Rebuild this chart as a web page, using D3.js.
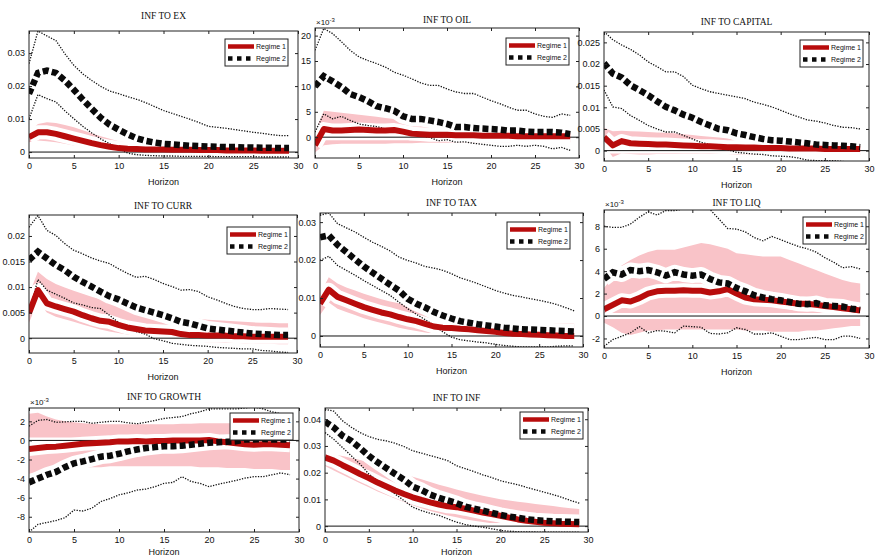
<!DOCTYPE html>
<html>
<head>
<meta charset="utf-8">
<script src="https://cdn.jsdelivr.net/npm/d3@7/dist/d3.min.js"></script>
<style>
  body { margin: 0; background: #fff; }
</style>
</head>
<body>
<div id="chart"></div>
<script>
// horizon (x) and axis ticks
const horizon = [0,1,2,3,4,5,6,7,8,9,10,11,12,13,14,15,16,17,18,19,20,21,22,23,24,25,26,27,28,29];
const xTicks = [0,5,10,15,20,25,30];

// INF TO EX
const exR1   = [0.0045,0.0060,0.0060,0.0055,0.0048,0.0041,0.0034,0.0027,0.0021,0.0016,0.0012,0.0010,0.0009,0.0008,0.0008,0.0008,0.0007,0.0007,0.0007,0.0006,0.0006,0.0006,0.0005,0.0005,0.0005,0.0005,0.0004,0.0004,0.0004,0.0004];
const exR1Hi = [0.0060,0.0085,0.0090,0.0088,0.0082,0.0075,0.0066,0.0057,0.0048,0.0040,0.0033,0.0029,0.0026,0.0024,0.0022,0.0021,0.0020,0.0019,0.0019,0.0018,0.0018,0.0017,0.0017,0.0016,0.0016,0.0016,0.0015,0.0015,0.0015,0.0015];
const exR1Lo = [0.0030,0.0035,0.0033,0.0030,0.0025,0.0020,0.0015,0.0010,0.0006,0.0003,0.0000,-0.0001,-0.0002,-0.0002,-0.0002,-0.0002,-0.0002,-0.0003,-0.0003,-0.0003,-0.0003,-0.0003,-0.0003,-0.0003,-0.0003,-0.0003,-0.0003,-0.0003,-0.0003,-0.0003];
const exR2   = [0.0177,0.0240,0.0247,0.0240,0.0217,0.0189,0.0159,0.0131,0.0104,0.0083,0.0068,0.0054,0.0042,0.0034,0.0029,0.0025,0.0023,0.0021,0.0019,0.0018,0.0017,0.0016,0.0015,0.0015,0.0014,0.0014,0.0013,0.0013,0.0012,0.0012];
const exR2Hi = [0.0268,0.0367,0.0352,0.0338,0.0298,0.0263,0.0237,0.0217,0.0199,0.0185,0.0177,0.0168,0.0160,0.0150,0.0138,0.0126,0.0117,0.0108,0.0099,0.0089,0.0078,0.0075,0.0072,0.0068,0.0064,0.0060,0.0057,0.0053,0.0050,0.0050];
const exR2Lo = [0.0101,0.0174,0.0162,0.0152,0.0125,0.0101,0.0078,0.0058,0.0040,0.0025,0.0010,-0.0003,-0.0008,-0.0010,-0.0011,-0.0012,-0.0012,-0.0013,-0.0013,-0.0013,-0.0013,-0.0014,-0.0014,-0.0014,-0.0014,-0.0014,-0.0015,-0.0015,-0.0015,-0.0015];
const exYLim = [-0.0018, 0.0367];
const exYTicks = [0, 0.01, 0.02, 0.03];

// INF TO OIL (x10^-3)
const oilR1   = [-1.6,1.6,1.3,1.3,1.4,1.5,1.4,1.3,1.3,1.4,1.1,0.7,0.6,0.5,0.5,0.5,0.4,0.4,0.4,0.3,0.3,0.3,0.3,0.2,0.2,0.2,0.2,0.2,0.2,0.2];
const oilR1Hi = [1.0,5.2,5.0,4.8,4.6,4.4,4.2,4.0,3.8,3.6,3.4,3.0,2.8,2.6,2.5,2.4,2.3,2.2,2.1,2.0,2.0,1.9,1.9,1.8,1.8,1.8,1.8,1.8,1.8,1.8];
const oilR1Lo = [-3.0,-1.6,-1.4,-1.3,-1.3,-1.3,-1.3,-1.3,-1.3,-1.2,-1.2,-1.2,-1.1,-1.1,-1.1,-1.1,-1.0,-1.0,-1.0,-1.0,-1.0,-1.0,-1.0,-1.0,-1.0,-1.0,-1.0,-1.0,-1.0,-1.0];
const oilR2   = [10.0,12.0,11.0,9.9,8.5,7.9,7.1,6.1,5.7,5.2,4.1,3.6,3.6,3.3,3.0,2.6,2.0,2.0,1.8,1.7,1.6,1.5,1.3,1.3,1.1,1.0,1.0,1.0,0.9,0.6];
const oilR2Hi = [17.1,21.4,20.4,18.8,17.1,15.8,15.1,14.5,13.8,12.8,12.2,11.5,10.7,10.2,10.2,9.5,8.9,8.6,8.6,7.9,7.2,6.6,5.9,5.3,5.3,4.6,4.1,3.9,4.6,4.3];
const oilR2Lo = [1.0,4.6,3.6,4.1,3.3,2.6,2.3,2.1,1.6,1.3,1.0,0.7,0.3,0.0,-0.7,-0.5,-1.0,-0.9,-1.2,-1.4,-1.6,-1.8,-1.8,-1.6,-1.8,-1.6,-1.8,-2.3,-2.0,-2.6];
const oilYLim = [-4.1, 21.5];
const oilYTicks = [0, 5, 10, 15, 20];

// INF TO CAPITAL
const capR1   = [0.0031,0.0012,0.0022,0.0017,0.0016,0.0015,0.0014,0.0014,0.0013,0.0012,0.0011,0.0010,0.0010,0.0009,0.0008,0.0008,0.0007,0.0007,0.0006,0.0006,0.0006,0.0005,0.0005,0.0005,0.0005,0.0004,0.0004,0.0004,0.0004,0.0004];
const capR1Hi = [0.0052,0.0045,0.0046,0.0045,0.0044,0.0043,0.0042,0.0041,0.0040,0.0038,0.0036,0.0034,0.0032,0.0030,0.0028,0.0026,0.0025,0.0024,0.0023,0.0022,0.0021,0.0020,0.0020,0.0019,0.0019,0.0018,0.0018,0.0018,0.0017,0.0017];
const capR1Lo = [0.0012,-0.0015,-0.0006,-0.0008,-0.0009,-0.0009,-0.0008,-0.0008,-0.0008,-0.0007,-0.0007,-0.0007,-0.0008,-0.0008,-0.0008,-0.0009,-0.0009,-0.0009,-0.0009,-0.0009,-0.0009,-0.0010,-0.0010,-0.0010,-0.0010,-0.0010,-0.0010,-0.0010,-0.0010,-0.0010];
const capR2   = [0.0202,0.0178,0.0169,0.0151,0.0140,0.0128,0.0114,0.0101,0.0093,0.0083,0.0076,0.0066,0.0058,0.0050,0.0047,0.0040,0.0036,0.0031,0.0027,0.0024,0.0023,0.0021,0.0019,0.0017,0.0014,0.0013,0.0012,0.0011,0.0010,0.0008];
const capR2Hi = [0.0275,0.0256,0.0244,0.0234,0.0221,0.0205,0.0194,0.0182,0.0182,0.0171,0.0151,0.0143,0.0136,0.0132,0.0128,0.0124,0.0120,0.0112,0.0107,0.0101,0.0093,0.0085,0.0078,0.0071,0.0068,0.0064,0.0058,0.0054,0.0053,0.0050];
const capR2Lo = [0.0140,0.0101,0.0097,0.0081,0.0070,0.0058,0.0050,0.0043,0.0043,0.0035,0.0027,0.0019,0.0014,0.0008,0.0002,-0.0004,-0.0006,-0.0008,-0.0009,-0.0012,-0.0013,-0.0014,-0.0017,-0.0022,-0.0023,-0.0023,-0.0023,-0.0025,-0.0027,-0.0027];
const capYLim = [-0.0024, 0.0274];
const capYTicks = [0, 0.005, 0.01, 0.015, 0.02, 0.025];

// INF TO CURR
const curR1   = [0.0049,0.0094,0.0068,0.0062,0.0057,0.0052,0.0045,0.0039,0.0034,0.0032,0.0026,0.0021,0.0018,0.0015,0.0014,0.0013,0.0012,0.0008,0.0006,0.0006,0.0005,0.0005,0.0005,0.0004,0.0004,0.0003,0.0003,0.0003,0.0003,0.0003];
const curR1Hi = [0.0085,0.0130,0.0116,0.0106,0.0099,0.0093,0.0087,0.0081,0.0076,0.0071,0.0066,0.0062,0.0058,0.0054,0.0050,0.0046,0.0044,0.0042,0.0040,0.0038,0.0036,0.0035,0.0034,0.0033,0.0032,0.0031,0.0030,0.0030,0.0029,0.0029];
const curR1Lo = [0.0030,0.0072,0.0050,0.0042,0.0037,0.0032,0.0027,0.0022,0.0017,0.0013,0.0010,0.0007,0.0004,0.0002,0.0000,-0.0002,-0.0004,-0.0005,-0.0006,-0.0007,-0.0008,-0.0008,-0.0009,-0.0009,-0.0010,-0.0010,-0.0011,-0.0011,-0.0012,-0.0012];
const curR2   = [0.0153,0.0169,0.0156,0.0143,0.0133,0.0120,0.0110,0.0101,0.0091,0.0082,0.0076,0.0068,0.0060,0.0055,0.0050,0.0045,0.0039,0.0032,0.0029,0.0024,0.0019,0.0017,0.0015,0.0013,0.0011,0.0009,0.0008,0.0007,0.0006,0.0006];
const curR2Hi = [0.0217,0.0240,0.0211,0.0201,0.0185,0.0172,0.0165,0.0157,0.0151,0.0146,0.0136,0.0127,0.0119,0.0121,0.0115,0.0107,0.0101,0.0094,0.0095,0.0091,0.0081,0.0075,0.0068,0.0062,0.0058,0.0056,0.0056,0.0058,0.0057,0.0056];
const curR2Lo = [0.0049,0.0115,0.0094,0.0086,0.0078,0.0069,0.0065,0.0060,0.0058,0.0045,0.0031,0.0021,0.0013,0.0008,-0.0001,-0.0005,-0.0010,-0.0012,-0.0014,-0.0015,-0.0016,-0.0018,-0.0019,-0.0020,-0.0021,-0.0021,-0.0024,-0.0025,-0.0027,-0.0028];
const curYLim = [-0.0029, 0.0241];
const curYTicks = [0, 0.005, 0.01, 0.015, 0.02];

// INF TO TAX
const taxR1   = [0.0085,0.0122,0.0103,0.0094,0.0085,0.0076,0.0069,0.0062,0.0057,0.0050,0.0044,0.0039,0.0032,0.0025,0.0022,0.0021,0.0019,0.0018,0.0015,0.0013,0.0011,0.0008,0.0006,0.0005,0.0004,0.0003,0.0002,0.0001,0.0000,0.0000];
const taxR1Hi = [0.0110,0.0155,0.0138,0.0128,0.0120,0.0111,0.0104,0.0097,0.0091,0.0086,0.0081,0.0074,0.0067,0.0060,0.0053,0.0047,0.0044,0.0042,0.0040,0.0038,0.0037,0.0036,0.0036,0.0035,0.0035,0.0034,0.0034,0.0033,0.0033,0.0032];
const taxR1Lo = [0.0055,0.0088,0.0072,0.0063,0.0055,0.0047,0.0040,0.0034,0.0028,0.0022,0.0017,0.0013,0.0009,0.0006,0.0003,0.0001,-0.0001,-0.0002,-0.0003,-0.0004,-0.0005,-0.0006,-0.0007,-0.0007,-0.0008,-0.0008,-0.0009,-0.0009,-0.0010,-0.0010];
const taxR2   = [0.0260,0.0265,0.0240,0.0221,0.0202,0.0183,0.0167,0.0151,0.0135,0.0120,0.0098,0.0085,0.0075,0.0063,0.0054,0.0046,0.0039,0.0035,0.0031,0.0028,0.0025,0.0022,0.0020,0.0018,0.0017,0.0016,0.0015,0.0014,0.0013,0.0012];
const taxR2Hi = [0.0318,0.0324,0.0296,0.0285,0.0274,0.0260,0.0247,0.0236,0.0224,0.0208,0.0199,0.0192,0.0183,0.0179,0.0173,0.0164,0.0153,0.0146,0.0138,0.0129,0.0120,0.0113,0.0107,0.0103,0.0098,0.0094,0.0089,0.0083,0.0075,0.0066];
const taxR2Lo = [0.0199,0.0210,0.0186,0.0173,0.0160,0.0146,0.0133,0.0120,0.0107,0.0089,0.0072,0.0057,0.0043,0.0028,0.0011,-0.0003,-0.0010,-0.0013,-0.0016,-0.0018,-0.0022,-0.0025,-0.0027,-0.0029,-0.0029,-0.0029,-0.0029,-0.0027,-0.0026,-0.0026];
const taxYLim = [-0.0029, 0.0324];
const taxYTicks = [0, 0.01, 0.02, 0.03];

// INF TO LIQ (x10^-3)
const liqR1   = [0.6,1.0,1.4,1.3,1.6,2.0,2.2,2.25,2.25,2.3,2.25,2.25,2.1,2.2,2.4,2.0,1.65,1.5,1.45,1.4,1.3,1.2,1.1,1.1,1.0,0.9,0.8,0.7,0.6,0.5];
const liqR1Hi = [2.5,3.5,4.5,5.0,5.4,5.7,5.9,5.9,5.9,6.1,6.3,6.5,6.4,6.2,6.0,5.6,5.5,5.4,5.3,5.3,5.3,5.0,4.7,4.4,4.1,3.8,3.5,3.2,3.0,2.9];
const liqR1Lo = [-0.6,-1.0,-1.5,-1.7,-1.5,-1.3,-1.3,-1.2,-1.2,-1.2,-1.2,-1.2,-1.2,-1.2,-1.2,-1.2,-1.3,-1.3,-1.3,-1.4,-1.4,-1.4,-1.4,-1.3,-1.3,-1.2,-1.1,-1.0,-0.9,-0.9];
const liqR2   = [3.3,3.9,3.7,4.1,4.0,4.1,3.9,3.6,3.9,3.7,3.6,3.7,3.3,3.0,2.9,2.5,2.2,1.85,1.65,1.5,1.4,1.25,1.1,1.05,1.15,0.95,0.9,0.85,0.65,0.55];
const liqR2Hi = [8.0,7.9,7.9,8.2,8.8,9.3,9.0,9.4,9.4,9.55,9.55,9.55,9.5,8.65,7.8,7.75,7.5,7.0,6.7,7.1,6.8,6.5,6.2,6.0,5.7,5.2,4.8,4.3,4.4,4.2];
const liqR2Lo = [-2.7,-2.1,-1.8,-1.5,-0.95,-1.5,-1.3,-1.35,-1.5,-0.9,-0.95,-1.0,-1.55,-1.6,-1.5,-1.05,-1.2,-1.6,-1.6,-1.5,-1.8,-2.1,-2.1,-2.0,-1.9,-2.1,-2.1,-1.8,-1.8,-2.0];
const liqYLim = [-2.85, 9.45];
const liqYTicks = [-2, 0, 2, 4, 6, 8];

// INF TO GROWTH (x10^-3)
const groR1   = [-0.9,-0.8,-0.7,-0.65,-0.55,-0.45,-0.35,-0.3,-0.25,-0.2,-0.1,-0.1,-0.05,-0.1,-0.05,-0.05,0,0,0,0,0.05,-0.1,-0.2,-0.3,-0.4,-0.45,-0.4,-0.4,-0.45,-0.5];
const groR1Hi = [2.8,2.9,2.5,2.2,2.0,1.9,1.8,1.75,1.7,1.7,1.7,1.7,1.7,1.7,1.7,1.7,1.7,1.75,1.75,1.8,1.8,1.8,1.8,1.8,1.75,1.75,1.7,1.7,1.7,1.7];
const groR1Lo = [-3.5,-3.4,-3.3,-3.2,-3.1,-3.0,-2.9,-2.8,-2.8,-2.7,-2.7,-2.7,-2.7,-2.7,-2.7,-2.7,-2.7,-2.7,-2.7,-2.8,-2.8,-2.8,-2.9,-2.9,-2.9,-3.0,-3.0,-3.0,-3.1,-3.1];
const groR2   = [-4.4,-4.0,-3.6,-3.3,-2.8,-2.4,-2.2,-1.95,-1.7,-1.6,-1.4,-1.15,-0.95,-0.8,-0.7,-0.6,-0.6,-0.55,-0.45,-0.35,-0.25,-0.2,-0.15,-0.1,0.1,0.1,0.15,0.1,0.1,0.1];
const groR2Hi = [1.5,2.1,2.2,1.9,1.95,2.0,2.0,1.8,1.9,2.0,2.0,1.85,1.75,1.9,2.1,2.3,2.4,2.5,2.8,3.0,3.3,3.3,3.3,3.3,3.4,3.5,3.3,3.0,2.8,2.5];
const groR2Lo = [-9.6,-8.8,-8.6,-8.4,-8.1,-7.3,-7.4,-7.1,-6.4,-6.1,-5.7,-5.5,-5.2,-5.1,-4.85,-4.5,-4.4,-3.8,-4.3,-4.5,-4.85,-4.6,-4.4,-4.2,-3.95,-3.8,-3.8,-3.6,-3.4,-3.6];
const groYLim = [-9.6, 3.4];
const groYTicks = [-8, -6, -4, -2, 0, 2];

// INF TO INF
const infR1   = [0.0257,0.0245,0.0228,0.0212,0.0195,0.0180,0.0163,0.0148,0.0133,0.0120,0.0108,0.0098,0.0089,0.0081,0.0074,0.0071,0.0065,0.0058,0.0051,0.0045,0.0039,0.0032,0.0025,0.0020,0.0016,0.0013,0.0011,0.0009,0.0008,0.0007];
const infR1Hi = [0.0270,0.0268,0.0262,0.0255,0.0247,0.0238,0.0228,0.0218,0.0207,0.0196,0.0185,0.0175,0.0165,0.0155,0.0146,0.0137,0.0129,0.0121,0.0114,0.0107,0.0101,0.0096,0.0091,0.0087,0.0083,0.0079,0.0075,0.0071,0.0067,0.0064];
const infR1Lo = [0.0225,0.0208,0.0192,0.0176,0.0160,0.0145,0.0130,0.0116,0.0103,0.0090,0.0078,0.0067,0.0057,0.0048,0.0040,0.0033,0.0026,0.0020,0.0015,0.0011,0.0007,0.0004,0.0002,0.0000,-0.0002,-0.0003,-0.0004,-0.0005,-0.0006,-0.0006];
const infR2   = [0.0391,0.0369,0.0338,0.0319,0.0292,0.0263,0.0239,0.0217,0.0195,0.0174,0.0148,0.0135,0.0118,0.0106,0.0096,0.0086,0.0073,0.0065,0.0058,0.0050,0.0042,0.0036,0.0031,0.0026,0.0022,0.0020,0.0018,0.0017,0.0016,0.0015];
const infR2Hi = [0.0437,0.0430,0.0394,0.0370,0.0350,0.0335,0.0325,0.0319,0.0310,0.0298,0.0282,0.0273,0.0264,0.0255,0.0245,0.0226,0.0215,0.0204,0.0192,0.0182,0.0170,0.0162,0.0155,0.0145,0.0136,0.0127,0.0118,0.0108,0.0096,0.0086];
const infR2Lo = [0.0350,0.0325,0.0294,0.0263,0.0232,0.0195,0.0170,0.0145,0.0120,0.0096,0.0071,0.0058,0.0048,0.0040,0.0027,0.0015,0.0006,0.0000,-0.0004,-0.0010,-0.0016,-0.0019,-0.0021,-0.0022,-0.0022,-0.0023,-0.0023,-0.0023,-0.0023,-0.0023];
const infYLim = [-0.0022, 0.0442];
const infYTicks = [0, 0.01, 0.02, 0.03, 0.04];

const panels = [
    {title: "INF TO EX", r1: exR1, r1Hi: exR1Hi, r1Lo: exR1Lo, r2: exR2, r2Hi: exR2Hi, r2Lo: exR2Lo, yLim: exYLim, yTicks: exYTicks, expo: false,
     box: {x0: 29, x1: 298, y0: 31, y1: 158, titleY: 19, legX: 225, legY: 39}},
    {title: "INF TO OIL", r1: oilR1, r1Hi: oilR1Hi, r1Lo: oilR1Lo, r2: oilR2, r2Hi: oilR2Hi, r2Lo: oilR2Lo, yLim: oilYLim, yTicks: oilYTicks, expo: true,
     box: {x0: 315, x1: 579, y0: 28, y1: 158, titleY: 23, legX: 506, legY: 38}},
    {title: "INF TO CAPITAL", r1: capR1, r1Hi: capR1Hi, r1Lo: capR1Lo, r2: capR2, r2Hi: capR2Hi, r2Lo: capR2Lo, yLim: capYLim, yTicks: capYTicks, expo: false,
     box: {x0: 604, x1: 869, y0: 32, y1: 161, titleY: 25, legX: 800, legY: 40}},
    {title: "INF TO CURR", r1: curR1, r1Hi: curR1Hi, r1Lo: curR1Lo, r2: curR2, r2Hi: curR2Hi, r2Lo: curR2Lo, yLim: curYLim, yTicks: curYTicks, expo: false,
     box: {x0: 29, x1: 297, y0: 215, y1: 353, titleY: 209, legX: 227, legY: 227}},
    {title: "INF TO TAX", r1: taxR1, r1Hi: taxR1Hi, r1Lo: taxR1Lo, r2: taxR2, r2Hi: taxR2Hi, r2Lo: taxR2Lo, yLim: taxYLim, yTicks: taxYTicks, expo: false,
     box: {x0: 320, x1: 583, y0: 213, y1: 347, titleY: 206, legX: 507, legY: 222}},
    {title: "INF TO LIQ", r1: liqR1, r1Hi: liqR1Hi, r1Lo: liqR1Lo, r2: liqR2, r2Hi: liqR2Hi, r2Lo: liqR2Lo, yLim: liqYLim, yTicks: liqYTicks, expo: true,
     box: {x0: 604, x1: 869, y0: 210, y1: 348, titleY: 206, legX: 803, legY: 217}},
    {title: "INF TO GROWTH", r1: groR1, r1Hi: groR1Hi, r1Lo: groR1Lo, r2: groR2, r2Hi: groR2Hi, r2Lo: groR2Lo, yLim: groYLim, yTicks: groYTicks, expo: true,
     box: {x0: 29, x1: 299, y0: 408, y1: 532, titleY: 400, legX: 230, legY: 413}},
    {title: "INF TO INF", r1: infR1, r1Hi: infR1Hi, r1Lo: infR1Lo, r2: infR2, r2Hi: infR2Hi, r2Lo: infR2Lo, yLim: infYLim, yTicks: infYTicks, expo: false,
     box: {x0: 325, x1: 588, y0: 408, y1: 532, titleY: 401, legX: 520, legY: 412}}
];

const pink = "#f9c3c8";
const darkRed = "#b80c0c";
const sansFont = "'Liberation Sans', Arial, sans-serif";
const serifFont = "'Liberation Serif', 'Times New Roman', serif";

const svg = d3.select("#chart").append("svg")
    .attr("width", 875)
    .attr("height", 557)
    .style("background", "#fff");

function fmt(v) {
    return String(+v.toFixed(4));
}

function drawPanel(p, idx) {
    const b = p.box;
    const x = d3.scaleLinear().domain([0, 30]).range([b.x0, b.x1]);
    const y = d3.scaleLinear().domain(p.yLim).range([b.y1, b.y0]);
    const g = svg.append("g");

    g.append("clipPath").attr("id", "clip" + idx)
        .append("rect")
        .attr("x", b.x0).attr("y", b.y0)
        .attr("width", b.x1 - b.x0).attr("height", b.y1 - b.y0);

    const plot = g.append("g").attr("clip-path", `url(#clip${idx})`);

    const line = d3.line().x((d, i) => x(horizon[i])).y(d => y(d));
    const band = d3.area()
        .x((d, i) => x(horizon[i]))
        .y0((d, i) => y(p.r1Lo[i]))
        .y1(d => y(d));

    // regime 1 band
    plot.append("path").datum(p.r1Hi)
        .attr("d", band)
        .attr("fill", pink);

    // white halos under the main lines
    plot.append("line")
        .attr("x1", x(0)).attr("x2", x(30))
        .attr("y1", y(0)).attr("y2", y(0))
        .attr("stroke", "#fff").attr("stroke-width", 6);
    plot.append("path").datum(p.r1)
        .attr("d", line).attr("fill", "none")
        .attr("stroke", "#fff").attr("stroke-width", 14)
        .attr("stroke-linejoin", "round");
    plot.append("path").datum(p.r2)
        .attr("d", line).attr("fill", "none")
        .attr("stroke", "#fff").attr("stroke-width", 15)
        .attr("stroke-linejoin", "round");

    // zero line
    plot.append("line")
        .attr("x1", x(0)).attr("x2", x(30))
        .attr("y1", y(0)).attr("y2", y(0))
        .attr("stroke", "#111").attr("stroke-width", 1);

    // regime 2 bands (dotted)
    [p.r2Hi, p.r2Lo].forEach(arr => {
        plot.append("path").datum(arr)
            .attr("d", line).attr("fill", "none")
            .attr("stroke", "#111").attr("stroke-width", 1.3)
            .attr("stroke-dasharray", "1.3,1.4");
    });

    // regime 1
    plot.append("path").datum(p.r1)
        .attr("d", line).attr("fill", "none")
        .attr("stroke", darkRed).attr("stroke-width", 6)
        .attr("stroke-linejoin", "round");

    // regime 2 (square dots)
    plot.append("path").datum(p.r2)
        .attr("d", line).attr("fill", "none")
        .attr("stroke", "#0a0a0a").attr("stroke-width", 6.5)
        .attr("stroke-dasharray", "6,3.2");

    // axes with inward ticks on all four sides
    const yLeft = g.append("g").attr("transform", `translate(${b.x0},0)`)
        .call(d3.axisLeft(y).tickValues(p.yTicks).tickSize(-3).tickPadding(4).tickFormat(fmt));
    const yRight = g.append("g").attr("transform", `translate(${b.x1},0)`)
        .call(d3.axisRight(y).tickValues(p.yTicks).tickSize(-3).tickFormat(""));
    const xBottom = g.append("g").attr("transform", `translate(0,${b.y1})`)
        .call(d3.axisBottom(x).tickValues(xTicks).tickSize(-3).tickPadding(5).tickFormat(d3.format("d")));
    const xTop = g.append("g").attr("transform", `translate(0,${b.y0})`)
        .call(d3.axisTop(x).tickValues(xTicks).tickSize(-3).tickFormat(""));

    [yLeft, yRight, xBottom, xTop].forEach(a => {
        a.select(".domain").remove();
        a.selectAll("line").attr("stroke", "#222");
        a.selectAll("text")
            .attr("fill", "#111")
            .style("font-family", sansFont)
            .style("font-size", "9px");
    });

    g.append("rect")
        .attr("x", b.x0).attr("y", b.y0)
        .attr("width", b.x1 - b.x0).attr("height", b.y1 - b.y0)
        .attr("fill", "none").attr("stroke", "#222").attr("stroke-width", 1);

    // title and axis label
    g.append("text")
        .attr("x", (b.x0 + b.x1) / 2).attr("y", b.titleY)
        .attr("text-anchor", "middle")
        .style("font-family", serifFont)
        .style("font-size", "9.5px")
        .attr("fill", "#111")
        .text(p.title);

    // bottom row label sits right at the page edge, keep it inside
    g.append("text")
        .attr("x", (b.x0 + b.x1) / 2).attr("y", Math.min(b.y1 + 27, 555))
        .attr("text-anchor", "middle")
        .style("font-family", sansFont)
        .style("font-size", "9px")
        .attr("fill", "#111")
        .text("Horizon");

    if (p.expo) {
        const t = g.append("text")
            .attr("x", b.x0 + 1).attr("y", b.y0 - 3)
            .style("font-family", sansFont)
            .style("font-size", "8px")
            .attr("fill", "#111");
        t.append("tspan").text("\u00d710");
        t.append("tspan").attr("dy", -3).style("font-size", "6px").text("-3");
    }

    // legend
    const lg = g.append("g").attr("transform", `translate(${b.legX},${b.legY})`);
    lg.append("rect")
        .attr("width", 63).attr("height", 27)
        .attr("fill", "#fff").attr("stroke", "#222").attr("stroke-width", 1);
    lg.append("line")
        .attr("x1", 3).attr("x2", 29).attr("y1", 7.5).attr("y2", 7.5)
        .attr("stroke", darkRed).attr("stroke-width", 4.5);
    lg.append("line")
        .attr("x1", 3).attr("x2", 29).attr("y1", 19.5).attr("y2", 19.5)
        .attr("stroke", "#0a0a0a").attr("stroke-width", 4.5)
        .attr("stroke-dasharray", "4.5,4.5");
    ["Regime 1", "Regime 2"].forEach((name, i) => {
        lg.append("text")
            .attr("x", 31).attr("y", 10 + i * 12)
            .style("font-family", sansFont)
            .style("font-size", "7px")
            .attr("fill", "#111")
            .text(name);
    });
}

panels.forEach(drawPanel);
</script>
</body>
</html>
